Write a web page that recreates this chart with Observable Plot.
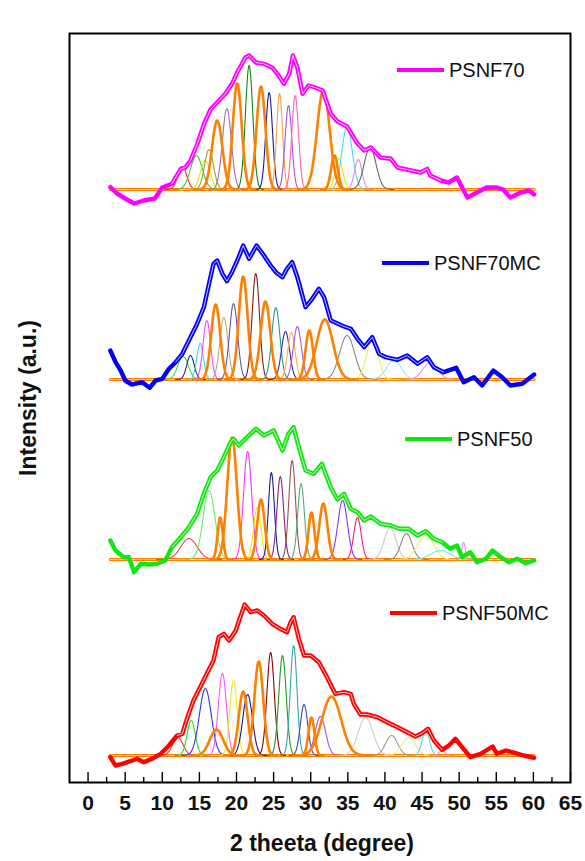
<!DOCTYPE html>
<html><head><meta charset="utf-8">
<script src="https://cdn.jsdelivr.net/npm/d3@7"></script>
<script src="https://cdn.jsdelivr.net/npm/@observablehq/plot@0.6"></script>
<style>
body{margin:0;background:#fff;font-family:"Liberation Sans",Arial,sans-serif;}
#wrap{position:relative;width:585px;height:861px;}
.leg{position:absolute;display:flex;align-items:center;height:24px;font-size:20px;color:#111;white-space:nowrap;}
.leg .sw{display:inline-block;width:47px;height:4px;margin-right:5px;}
.title{position:absolute;font-weight:bold;font-size:23px;color:#111;white-space:nowrap;transform-origin:center;}
</style></head><body><div id="wrap"></div>
<script>
// ---------- data ----------
const samples = ["PSNF70", "PSNF70MC", "PSNF50", "PSNF50MC"];
const xTicks = [0, 5, 10, 15, 20, 25, 30, 35, 40, 45, 50, 55, 60, 65];

const psnf70X = [3.0,3.9,5.0,6.2,7.5,9.0,10.0,11.3,12.5,13.1,13.8,14.7,15.6,16.5,17.4,18.5,19.4,20.1,21.2,21.7,22.6,23.7,24.8,25.5,26.4,27.1,27.6,28.2,28.9,29.7,30.6,31.6,32.7,33.6,34.9,36.2,37.2,38.1,39.4,40.8,41.7,43.5,44.8,45.7,46.1,47.5,48.6,49.7,50.4,51.1,52.4,53.7,55.1,55.9,56.9,58.3,59.4,60.1];
const psnf70Y = [2.3,-4,-9,-14,-11,-9,2,5.7,20.7,22,29,45,65,80,87,95.7,105.7,117,132,134,127,125.7,122,115.7,105.7,115.7,134,122,95.7,104,102,99,75.7,68,63,47,39,42,32,30.7,22,19,17,20.7,14,9,7,12,2,-8,-3,2,2,0,-8,-3,-1,-5];

const psnf70mcX = [3.0,3.7,4.4,5.0,5.9,7.3,8.3,9.1,10.0,10.9,11.8,12.7,13.8,14.7,15.6,16.3,16.9,17.4,18.1,18.7,19.4,20.3,20.9,21.7,22.7,23.7,24.6,25.3,26.2,26.8,27.5,28.2,29.3,30.2,31.1,31.8,32.7,34.5,35.4,36.3,37.2,38.3,39.2,40.1,41.7,43.0,44.4,45.7,46.6,47.9,49.6,50.6,52.0,53.1,54.6,55.8,56.9,58.5,60.1];
const psnf70mcY = [29,17.3,9,-1,-5,-2.7,-8.3,-1,0.7,10.7,17.3,25.7,42.3,55.7,72.3,95.7,115.7,119,105.7,98.3,107.3,122.3,134,120.7,134,124,114,107.3,102.3,110.7,117.3,102.3,72.3,80.7,90.7,82.3,59,53,50.7,40.7,32.3,42.3,25.7,22.3,19.7,24,15.7,22.3,12.3,7.3,11.7,-2.7,2.3,-6,9,2.3,-6,-4.3,5];

const psnf50X = [3.0,3.7,4.8,5.5,6.2,7.1,8.2,9.3,10.4,11.3,12.5,13.6,14.7,15.6,16.5,17.4,18.3,19.2,19.6,20.3,21.2,22.6,23.7,25.0,26.2,27.0,27.7,28.4,29.3,30.4,31.5,32.7,33.6,34.5,35.4,36.3,37.2,38.1,39.4,40.8,41.9,43.2,44.4,45.5,46.6,47.7,48.8,49.7,50.4,51.5,52.4,53.6,54.5,55.6,56.7,57.8,59.0,60.1];
const psnf50Y = [19,9,2.3,2.3,-12.7,-4.3,-5,-4.3,-1,12.3,22.3,32.3,45.7,65.7,82.3,89,102.3,117.3,120.7,114,120.7,130.7,124,129,109,125.7,132.3,112.3,89,85.7,95.7,72,60,65.7,50.7,47.3,39,43,35.7,34,30.7,30.7,24,28.3,20.7,17.3,10.7,14,2.3,7.3,-2.7,0.7,9,2.3,-2.7,0.7,-3.7,-1];

const psnf50mcX = [3.0,3.7,4.6,5.7,6.6,7.5,8.6,9.8,10.9,12.0,12.7,13.4,14.2,15.1,16.1,16.9,17.6,18.3,19.0,19.9,20.5,21.1,21.9,22.8,23.7,24.8,25.9,26.8,27.3,27.7,28.4,29.1,30.0,31.1,32.2,33.3,34.5,35.4,35.8,36.7,37.6,39.0,40.3,41.7,43.0,44.1,45.0,45.8,46.6,47.7,48.6,49.5,50.4,51.5,52.9,54.5,55.1,56.3,57.6,58.7,60.1];
const psnf50mcY = [-1.7,-10,-8.3,-5.7,-3.3,-6.7,-3.3,1.7,10,20,21.7,38.3,55,68.3,83.3,95,118.3,121.7,115,125,138.3,151,143.3,145,140,131.7,126.7,123.3,133.3,138.3,116.7,100,100,93.3,78.3,61.7,63.3,61.7,51.7,41,41,38.3,33.3,28.3,23.3,19,22.3,26.7,15,5.7,10,16.7,8.3,-1.7,1.7,9,1.7,5,2.3,0,-2.3];

// fitted peaks: centre (deg), height (a.u.), sigma (deg)
const peaks70C = [12.7,14.6,15.8,16.3,17.4,18.7,20.1,21.7,23.3,24.4,25.8,27.0,27.9,31.7,33.2,33.8,34.9,36.4,38.0];
const peaks70H = [23,34,29,40,69,81,106,124,103,97,96,84,94,99,34,31,63,30,42];
const peaks70S = [0.6,0.8,0.65,0.6,0.7,0.6,0.6,0.5,0.6,0.45,0.4,0.45,0.45,0.85,0.45,0.5,0.7,0.5,0.8];

const peaks70mcC = [12.8,13.8,15.1,16.0,17.2,18.3,19.6,20.9,22.6,23.9,25.3,26.6,27.4,28.2,29.8,31.9,34.9,38.3,41.2,46.1];
const peaks70mcH = [23,24,36,59,75,62,76,103,106,78,72,48,47,53,49,60,44,39,19,17];
const peaks70mcS = [0.7,0.5,0.45,0.5,0.6,0.55,0.55,0.6,0.5,0.65,0.55,0.55,0.5,0.55,0.5,1.1,1.0,0.8,1.0,1.0];

const peaks50C = [13.6,16.3,17.8,19.4,21.5,22.8,23.3,24.7,25.9,27.5,28.7,30.1,31.7,34.3,36.3,40.7,42.9,45.5,47.5,50.6];
const peaks50H = [21,69,42,122,108,52,60,87,83,99,76,47,56,59,42,32,26,24,9,17];
const peaks50S = [1.1,0.8,0.35,0.65,0.55,0.5,0.5,0.4,0.45,0.45,0.45,0.4,0.55,0.65,0.5,0.8,0.75,1.1,1.3,0.25];

const peaks50mcC = [12.1,13.9,15.8,17.3,18.1,19.6,20.9,21.5,23.0,24.6,26.2,27.7,29.1,30.1,31.3,32.8,37.4,40.9,43.2,45.5,47.7];
const peaks50mcH = [18,35,67,26,82,75,64,61,94,103,100,110,51,38,39,59,38,20,18,25,5];
const peaks50mcS = [0.7,0.55,0.8,0.9,0.55,0.5,0.6,0.65,0.6,0.5,0.5,0.45,0.5,0.4,0.7,1.3,1.0,0.8,0.9,0.5,0.4];

// ---------- styles ----------
const OR = "#ff7f00";
const sampleColors = ["#ff00ff", "#0000ff", "#11e611", "#ff0000"];
const peaks70Col = ["#ff2020","#33cc33","#e8e800","#a09a50",OR,"#a070a8",OR,"#118811",OR,"#1a1a9a","#ff9f40","#9d55f0","#ff66aa",OR,OR,"#e8e800","#40e0f0","#e08ae8","#666666"];
const peaks70mcCol = ["#44dd44","#2a2aa0","#33dddd","#ff44ff",OR,"#b8b070","#5a5aa8",OR,"#8b1a1a",OR,"#2a9a8a","#3030a0","#ffaa55","#aa55ee",OR,OR,"#888888","#eeee55","#88eeff","#ff88cc"];
const peaks50Col = ["#ee4444","#66ee66",OR,OR,"#ff33ff","#eeee00",OR,"#1a1a99","#882288","#a05050","#55aa77",OR,OR,"#8833ff","#ee2277","#cccccc","#888888","#eeee66","#66eeee","#ee88ee"];
const peaks50mcCol = ["#ff3333","#22dd22","#3333ff",OR,"#ff55ff","#eeee22",OR,"#1a1a99",OR,"#880000","#229922","#33aaaa","#4444bb",OR,"#9955ee",OR,"#cccccc","#999999","#eeee77","#55dddd","#ff88dd"];

// vertical stacking offsets of the four patterns (a.u.)
const stackOffset = [593, 403, 223, 27];

const seriesX = [psnf70X, psnf70mcX, psnf50X, psnf50mcX];
const seriesY = [psnf70Y, psnf70mcY, psnf50Y, psnf50mcY];
const peakC = [peaks70C, peaks70mcC, peaks50C, peaks50mcC];
const peakH = [peaks70H, peaks70mcH, peaks50H, peaks50mcH];
const peakS = [peaks70S, peaks70mcS, peaks50S, peaks50mcS];
const peakCol = [peaks70Col, peaks70mcCol, peaks50Col, peaks50mcCol];

// ---------- marks ----------
const marks = [];
samples.forEach((name, i) => {
  const off = stackOffset[i];
  const xs = seriesX[i], ys = seriesY[i];
  const pts = xs.map((x, j) => ({x, y: ys[j] + off}));
  const base = [{x: xs[0], y: off}, {x: xs[xs.length - 1], y: off}];
  marks.push(Plot.line(base, {x: "x", y: "y", stroke: OR, strokeWidth: 3}));
  marks.push(Plot.line(base, {x: "x", y: "y", stroke: "#fff", strokeWidth: 0.8, strokeOpacity: 0.8}));
  const order = d3.range(peakC[i].length).sort((a, b) => (peakCol[i][a] === OR) - (peakCol[i][b] === OR));
  order.forEach(k => {
    const c = peakC[i][k], h = peakH[i][k], s = peakS[i][k];
    const gx = d3.range(c - 4 * s, c + 4 * s + 1e-9, 0.04);
    const g = gx.map(x => ({x, y: off + h * Math.exp(-((x - c) ** 2) / (2 * s * s))}));
    const thick = peakCol[i][k] === OR;
    marks.push(Plot.line(g, {x: "x", y: "y", stroke: peakCol[i][k], strokeWidth: thick ? 2.6 : 1.1, curve: "basis"}));
  });
  marks.push(Plot.line(pts, {x: "x", y: "y", stroke: sampleColors[i], strokeWidth: 4.4, strokeLinejoin: "round"}));
  marks.push(Plot.line(pts.filter(d => d.x > 11 && d.x < 48), {x: "x", y: "y", stroke: "#fff", strokeWidth: 1, strokeOpacity: 0.75}));
});

const minorTicks = d3.range(2.5, 65, 5);
marks.push(Plot.ruleX(xTicks, {y1: 0, y2: 10, stroke: "#000", strokeWidth: 1.4}));
marks.push(Plot.ruleX(minorTicks, {y1: 0, y2: 5, stroke: "#000", strokeWidth: 1.4}));
marks.push(Plot.axisX({ticks: xTicks, tickSize: 0, tickPadding: 13, fontSize: 21, fontWeight: "bold", label: null}));
marks.push(Plot.frame({stroke: "#000", strokeWidth: 2}));

const chart = Plot.plot({
  width: 585, height: 861,
  marginLeft: 69, marginRight: 15, marginTop: 33, marginBottom: 79,
  x: {domain: [-2.5, 65]},
  y: {domain: [0, 749], axis: null},
  style: {fontFamily: "'Liberation Sans', Arial, sans-serif", fontWeight: "bold", color: "#111", background: "#fff", overflow: "visible"},
  marks
});
const wrap = document.getElementById("wrap");
wrap.appendChild(chart);

// legends (HTML, positioned over the plot)
const legendPos = [[397, 70], [382, 263], [405, 439], [390, 613]];
samples.forEach((name, i) => {
  const d = document.createElement("div");
  d.className = "leg";
  d.style.left = legendPos[i][0] + "px";
  d.style.top = (legendPos[i][1] - 12) + "px";
  d.innerHTML = `<span class="sw" style="background:${sampleColors[i]}"></span><span>${name}</span>`;
  wrap.appendChild(d);
});

// axis titles
const xt = document.createElement("div");
xt.className = "title"; xt.textContent = "2 theeta (degree)";
xt.style.left = "322px"; xt.style.top = "843px"; xt.style.transform = "translate(-50%,-50%)";
wrap.appendChild(xt);
const yt = document.createElement("div");
yt.className = "title"; yt.textContent = "Intensity (a.u.)";
yt.style.left = "28px"; yt.style.top = "398px"; yt.style.transform = "translate(-50%,-50%) rotate(-90deg)";
wrap.appendChild(yt);
</script></body></html>
